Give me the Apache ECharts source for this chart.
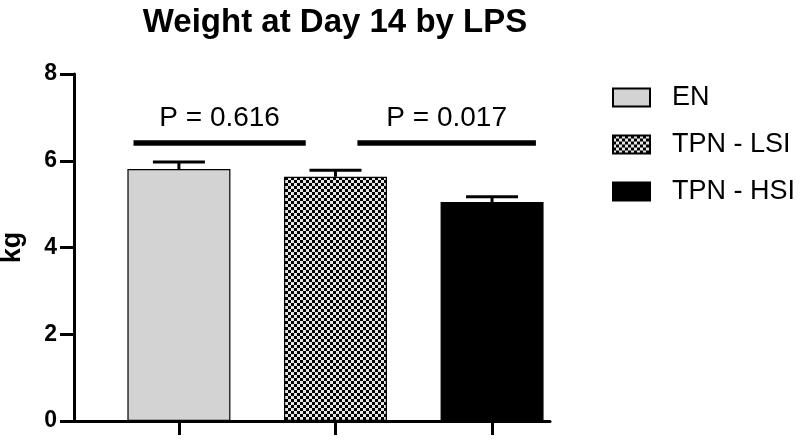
<!DOCTYPE html>
<html><head><meta charset="utf-8">
<script src="https://cdn.jsdelivr.net/npm/echarts@6/dist/echarts.min.js"></script>
<style>html,body{margin:0;padding:0;background:#fff}#c{width:800px;height:441px}</style>
</head><body><div id="c"></div>
<script>
const categories = ['EN', 'TPN - LSI', 'TPN - HSI'];
const means = [5.81, 5.63, 5.05];
const sems = [0.16, 0.15, 0.12];
const yTicks = [0, 2, 4, 6, 8];
const pSpans = [[-0.29, 0.81], [1.14, 2.28]];
const pLabels = ['P = 0.616', 'P = 0.017'];
const pLevel = 6.41;

const FONT = '"Liberation Sans", Arial, Helvetica, sans-serif';

function checker() {
  const c = document.createElement('canvas');
  c.width = 6; c.height = 6;
  const g = c.getContext('2d');
  g.fillStyle = '#e6e6e6'; g.fillRect(0, 0, 6, 6);
  g.fillStyle = '#000';
  g.fillRect(0, 0, 3, 3); g.fillRect(3, 3, 3, 3);
  return c;
}

const fills = ['#d3d3d3', { image: checker(), repeat: 'repeat' }, '#000000'];

const chart = echarts.init(document.getElementById('c'), null, { renderer: 'canvas' });

const barSeries = categories.map((name, i) => ({
  name: name,
  type: 'bar',
  barWidth: 103,
  barGap: '-100%',
  data: [[i, means[i]]],
  itemStyle: { color: fills[i], borderColor: '#000', borderWidth: 1.2 },
  z: 2
}));

const errSeries = {
  type: 'custom',
  name: 'err',
  z: 5,
  data: means.map((m, i) => [i, m, sems[i]]),
  renderItem: function (params, api) {
    const x = api.value(0), m = api.value(1), e = api.value(2);
    const p0 = api.coord([x, m]);
    const p1 = api.coord([x, m + e]);
    const hw = 26;
    return {
      type: 'group',
      children: [
        { type: 'line', shape: { x1: p0[0], y1: p0[1], x2: p1[0], y2: p1[1] }, style: { stroke: '#000', lineWidth: 3 } },
        { type: 'line', shape: { x1: p1[0] - hw, y1: p1[1], x2: p1[0] + hw, y2: p1[1] }, style: { stroke: '#000', lineWidth: 3 } }
      ]
    };
  }
};

const pSeries = {
  type: 'custom',
  name: 'p',
  z: 5,
  data: pSpans.map((s, i) => [s[0], s[1], pLevel, i]),
  renderItem: function (params, api) {
    const a = api.coord([api.value(0), api.value(2)]);
    const b = api.coord([api.value(1), api.value(2)]);
    const idx = api.value(3);
    return {
      type: 'group',
      children: [
        { type: 'line', shape: { x1: a[0], y1: a[1], x2: b[0], y2: b[1] }, style: { stroke: '#000', lineWidth: 5.5 } },
        { type: 'text', x: (a[0] + b[0]) / 2, y: a[1] - 25, style: { text: pLabels[idx], fill: '#000', font: '28px ' + FONT, align: 'center', verticalAlign: 'middle' } }
      ]
    };
  }
};

chart.setOption({
  animation: false,
  backgroundColor: '#fff',
  title: {
    text: 'Weight at Day 14 by LPS',
    left: 330, top: 1, textAlign: 'center',
    textStyle: { fontFamily: FONT, fontWeight: 'bold', fontSize: 33, color: '#000' }
  },
  legend: {
    orient: 'vertical',
    left: 612, top: 84, padding: 0,
    itemWidth: 37, itemHeight: 18, itemGap: 20,
    icon: 'rect',
    data: categories,
    textStyle: { fontFamily: FONT, fontSize: 27, color: '#000', padding: [0, 0, 0, 17] }
  },
  grid: { left: 74, right: 250, top: 74, bottom: 20, containLabel: false, outerBoundsMode: 'none' },
  xAxis: {
    type: 'value',
    min: -0.67, max: 2.37,
    splitLine: { show: false },
    axisLine: { show: true, onZero: false, lineStyle: { color: '#000', width: 3 } },
    axisTick: { show: true, customValues: [0, 1, 2], length: 14, lineStyle: { color: '#000', width: 3 } },
    axisLabel: { show: false }
  },
  yAxis: {
    type: 'value',
    min: yTicks[0], max: yTicks[yTicks.length - 1], interval: 2,
    name: 'kg', nameLocation: 'middle', nameRotate: 90, nameGap: 48,
    nameTextStyle: { fontFamily: FONT, fontWeight: 'bold', fontSize: 27, color: '#000' },
    splitLine: { show: false },
    axisLine: { show: true, onZero: false, lineStyle: { color: '#000', width: 3 } },
    axisTick: { show: true, length: 14, lineStyle: { color: '#000', width: 3 } },
    axisLabel: { fontFamily: FONT, fontWeight: 'bold', fontSize: 23, color: '#000', margin: 17 }
  },
  series: barSeries.concat([errSeries, pSeries])
});
</script>
</body></html>
